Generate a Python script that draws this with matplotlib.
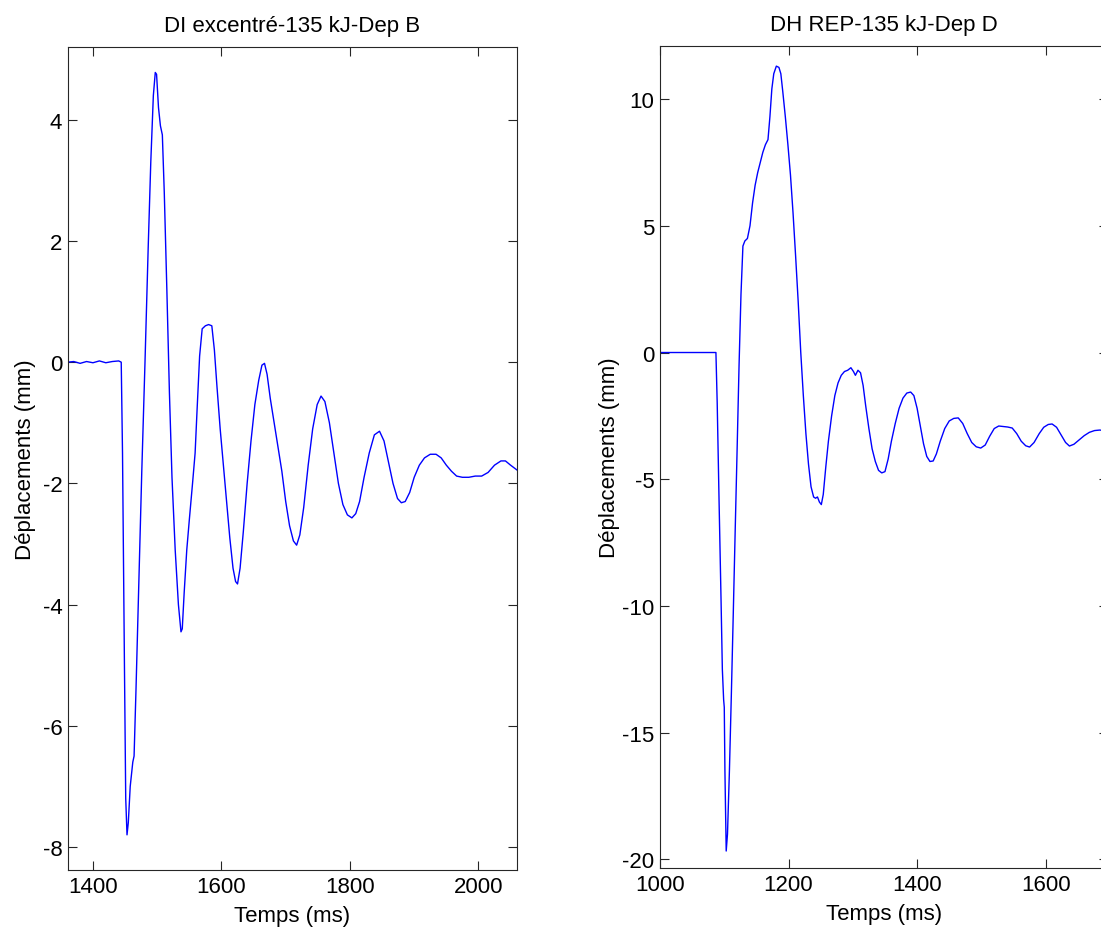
import matplotlib
matplotlib.use("Agg")
import matplotlib.pyplot as plt

plt.rcParams['font.family'] = ['Liberation Sans', 'DejaVu Sans']
plt.rcParams['axes.unicode_minus'] = False

# Left panel: DI excentré, sensor B
time_b = [1361, 1370, 1380, 1390, 1400, 1410, 1420, 1430, 1440, 1444, 1446, 1449, 1451,
          1453, 1455, 1458, 1462, 1464, 1467, 1471, 1476, 1481, 1486, 1490, 1494, 1497,
          1499, 1502, 1505, 1508, 1511, 1515, 1519, 1523, 1528, 1533, 1537, 1539, 1542,
          1546, 1550, 1555, 1559, 1562, 1566, 1570, 1575, 1580, 1585, 1589, 1593, 1598,
          1603, 1608, 1613, 1618, 1622, 1625, 1629, 1634, 1640, 1646, 1652, 1658, 1663,
          1667, 1671, 1676, 1682, 1688, 1694, 1700, 1706, 1712, 1717, 1722, 1728, 1735,
          1742, 1749, 1755, 1761, 1768, 1775, 1782, 1789, 1796, 1803, 1809, 1815, 1822,
          1830, 1838, 1846, 1853, 1860, 1867, 1874, 1880, 1886, 1893, 1900, 1908, 1916,
          1925, 1934, 1942, 1950, 1958, 1966, 1975, 1985, 1995, 2005, 2015, 2025, 2035,
          2042, 2050, 2060]
disp_b = [0.0, 0.01, -0.02, 0.01, -0.01, 0.02, -0.01, 0.01, 0.02, 0.0, -1.5, -5.0, -7.2,
          -7.8, -7.6, -7.0, -6.6, -6.5, -5.4, -3.8, -1.8, 0.0, 1.9, 3.3, 4.4, 4.78,
          4.75, 4.2, 3.9, 3.75, 2.8, 1.2, -0.5, -1.9, -3.1, -4.0, -4.45, -4.4, -3.8,
          -3.1, -2.6, -2.0, -1.5, -0.8, 0.1, 0.55, 0.6, 0.62, 0.6, 0.2, -0.4, -1.1,
          -1.7, -2.3, -2.9, -3.4, -3.62, -3.66, -3.4, -2.8, -2.0, -1.3, -0.7, -0.3, -0.05,
          -0.02, -0.2, -0.6, -1.0, -1.4, -1.8, -2.3, -2.7, -2.95, -3.02, -2.85, -2.4, -1.7,
          -1.1, -0.7, -0.56, -0.65, -1.0, -1.5, -2.0, -2.35, -2.52, -2.57, -2.5, -2.3, -1.9,
          -1.5, -1.2, -1.14, -1.3, -1.65, -2.0, -2.25, -2.32, -2.3, -2.15, -1.9, -1.7, -1.58,
          -1.52, -1.52, -1.58, -1.7, -1.8, -1.88, -1.9, -1.9, -1.88, -1.88, -1.82, -1.7, -1.63,
          -1.63, -1.7, -1.78]

# Right panel: DH REP, sensor D
time_d = [1000, 1087, 1089, 1092, 1095, 1097, 1099, 1100, 1101, 1103, 1105, 1108, 1111,
          1114, 1117, 1120, 1123, 1126, 1129, 1132, 1136, 1140, 1144, 1148, 1152, 1156,
          1160, 1164, 1168, 1171, 1174, 1177, 1181, 1185, 1188, 1191, 1195, 1199, 1203,
          1207, 1211, 1215, 1219, 1223, 1227, 1231, 1235, 1239, 1242, 1245, 1248, 1251,
          1254, 1258, 1262, 1267, 1272, 1277, 1282, 1287, 1292, 1297, 1301, 1304, 1308,
          1312, 1316, 1320, 1325, 1330, 1335, 1340, 1345, 1350, 1355, 1360, 1366, 1372,
          1378, 1384, 1390, 1395, 1400, 1405, 1410, 1415, 1420, 1425, 1430, 1436, 1443,
          1450, 1457, 1464, 1471, 1478, 1485, 1492, 1499, 1506, 1513, 1520, 1527, 1534,
          1541, 1548, 1555, 1562, 1569, 1575, 1582, 1590, 1597, 1604, 1610, 1617, 1624,
          1631, 1637, 1644, 1652, 1660, 1668, 1676, 1684, 1692, 1697]
disp_d = [0.0, 0.0, -2.0, -6.0, -9.8, -12.5, -13.7, -14.0, -16.5, -19.67, -19.0, -16.5, -13.5,
          -10.3, -7.0, -3.8, -0.5, 2.3, 4.2, 4.4, 4.5, 5.0, 5.9, 6.6, 7.1, 7.5,
          7.9, 8.2, 8.4, 9.3, 10.4, 11.0, 11.3, 11.25, 11.0, 10.3, 9.3, 8.2, 7.0,
          5.5, 3.8, 2.0, 0.0, -1.7, -3.2, -4.4, -5.3, -5.7, -5.75, -5.7, -5.9, -6.0,
          -5.6, -4.5, -3.5, -2.5, -1.7, -1.2, -0.9, -0.75, -0.7, -0.6, -0.75, -0.9, -0.7,
          -0.8, -1.3, -2.1, -3.0, -3.8, -4.3, -4.65, -4.75, -4.7, -4.2, -3.5, -2.8, -2.2,
          -1.8, -1.6, -1.56, -1.7, -2.2, -2.9, -3.6, -4.1, -4.3, -4.28, -4.0, -3.5, -3.0,
          -2.7, -2.6, -2.58, -2.8, -3.2, -3.55, -3.72, -3.77, -3.65, -3.3, -3.0, -2.9, -2.92,
          -2.94, -2.98, -3.2, -3.5, -3.68, -3.73, -3.55, -3.2, -2.95, -2.84, -2.82, -2.95, -3.25,
          -3.55, -3.69, -3.62, -3.45, -3.28, -3.15, -3.08, -3.06, -3.08, -3.12]

panels = [
    dict(t=time_b, d=disp_b, title='DI excentré-135 kJ-Dep B',
         xlim=(1361, 2060), ylim=(-8.38, 5.2),
         xticks=[1400, 1600, 1800, 2000], yticks=[-8, -6, -4, -2, 0, 2, 4],
         rect=[67.9 / 1101, 1 - 871 / 929, 449.1 / 1101, 823 / 929], ylabelpad=5),
    dict(t=time_d, d=disp_d, title='DH REP-135 kJ-Dep D',
         xlim=(1000, 1697), ylim=(-20.34, 12.11),
         xticks=[1000, 1200, 1400, 1600], yticks=[-20, -15, -10, -5, 0, 5, 10],
         rect=[660 / 1101, 1 - 869 / 929, 448 / 1101, 822.4 / 929], ylabelpad=1.5),
]

fig = plt.figure(figsize=(11.01, 9.29), dpi=100)

for p in panels:
    ax = fig.add_axes(p['rect'])
    ax.plot(p['t'], p['d'], color='#0000ff', lw=1.0)
    ax.set_xlim(*p['xlim'])
    ax.set_ylim(*p['ylim'])
    ax.set_xticks(p['xticks'])
    ax.set_yticks(p['yticks'])
    ax.tick_params(direction='in', top=True, right=True, length=6.5, width=0.8,
                   labelsize=16, pad=4, colors='#262626', labelcolor='black')
    for s in ax.spines.values():
        s.set_color('#262626')
        s.set_linewidth(0.8)
    ax.set_title(p['title'], fontsize=16, pad=11.5)
    ax.set_xlabel('Temps (ms)', fontsize=16, labelpad=6)
    ax.set_ylabel('Déplacements (mm)', fontsize=16, labelpad=p['ylabelpad'])

fig.savefig('out.png', dpi=100)
